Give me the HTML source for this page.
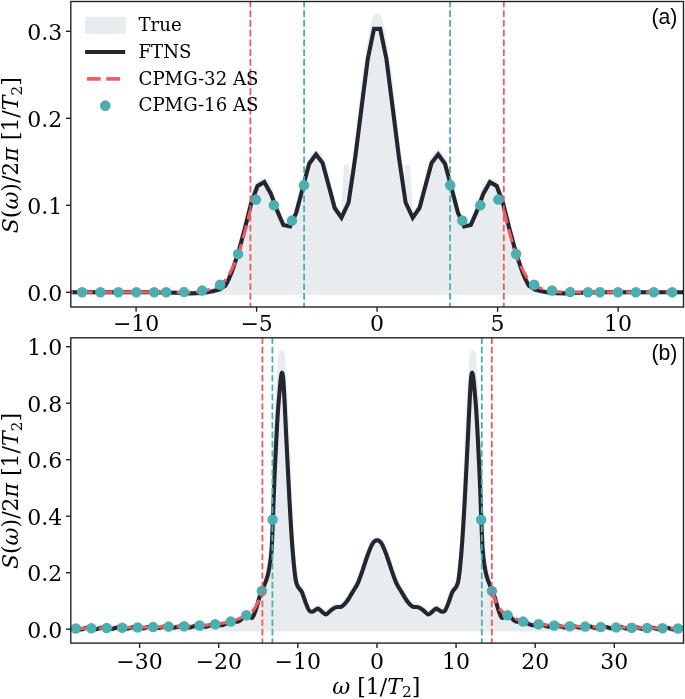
<!DOCTYPE html>
<html lang="en"><head><meta charset="utf-8"><title>Spectral density figure</title>
<style>
html,body{margin:0;padding:0;background:#fff;}
body{width:685px;height:699px;overflow:hidden;}
svg{display:block;}
text{font-family:"DejaVu Serif","Liberation Serif",serif;fill:#000;}
.tick{font-size:22px;}
.leg{font-size:18.15px;}
.lab{font-size:22px;}
.it{font-style:italic;}
.pan{font-family:"Liberation Sans",Arial,Helvetica,sans-serif;font-size:21.2px;fill:#000;}
</style></head><body>
<svg width="685" height="699" viewBox="0 0 685 699">
<rect width="685" height="699" fill="#fff"/>
<defs>
<clipPath id="ct"><rect x="70.8" y="1.5" width="612.7" height="305.5"/></clipPath>
<clipPath id="cb"><rect x="70.8" y="337.8" width="612.7" height="305.3"/></clipPath>
</defs>

<g clip-path="url(#ct)">
<path d="M71.00,292.30 C77.50,292.30 96.83,292.30 110.00,292.30 C123.17,292.30 139.17,292.27 150.00,292.30 C160.83,292.33 168.33,292.42 175.00,292.50 C181.67,292.58 185.33,292.85 190.00,292.80 C194.67,292.75 199.23,292.60 203.00,292.20 C206.77,291.80 208.85,291.85 212.60,290.40 C216.35,288.95 222.27,286.82 225.50,283.50 C228.73,280.18 229.85,275.83 232.00,270.50 C234.15,265.17 236.27,258.58 238.40,251.50 C240.53,244.42 242.67,236.25 244.80,228.00 C246.93,219.75 249.08,209.17 251.20,202.00 C253.32,194.83 255.87,188.42 257.50,185.00 C259.13,181.58 259.87,182.20 261.00,181.50 C262.13,180.80 263.13,180.38 264.30,180.80 C265.47,181.22 266.80,181.97 268.00,184.00 C269.20,186.03 270.00,188.67 271.50,193.00 C273.00,197.33 275.02,204.83 277.00,210.00 C278.98,215.17 281.73,221.25 283.40,224.00 C285.07,226.75 285.88,226.25 287.00,226.50 C288.12,226.75 288.55,227.92 290.10,225.50 C291.65,223.08 294.17,218.50 296.30,212.00 C298.43,205.50 300.75,194.70 302.90,186.50 C305.05,178.30 307.52,168.05 309.20,162.80 C310.88,157.55 311.87,156.63 313.00,155.00 C314.13,153.37 315.00,153.00 316.00,153.00 C317.00,153.00 317.87,153.42 319.00,155.00 C320.13,156.58 321.23,157.67 322.80,162.50 C324.37,167.33 326.42,176.58 328.40,184.00 C330.38,191.42 332.52,201.58 334.70,207.00 C336.88,212.42 339.18,217.50 341.50,216.50 C343.82,215.50 346.33,210.92 348.60,201.00 C350.87,191.08 353.20,170.67 355.10,157.00 C357.00,143.33 358.43,132.67 360.00,119.00 C361.57,105.33 363.23,85.03 364.50,75.00 C365.77,64.97 366.32,66.48 367.60,58.80 C368.88,51.12 371.10,35.28 372.20,28.90 C373.30,22.52 373.60,22.45 374.20,20.50 C374.80,18.55 375.32,17.90 375.80,17.20 C376.28,16.50 376.67,16.30 377.10,16.30 C377.53,16.30 377.92,16.50 378.40,17.20 C378.88,17.90 379.40,18.55 380.00,20.50 C380.60,22.45 380.90,22.52 382.00,28.90 C383.10,35.28 385.32,51.12 386.60,58.80 C387.88,66.48 388.43,64.97 389.70,75.00 C390.97,85.03 392.63,105.33 394.20,119.00 C395.77,132.67 397.20,143.33 399.10,157.00 C401.00,170.67 403.33,191.08 405.60,201.00 C407.87,210.92 410.38,215.50 412.70,216.50 C415.02,217.50 417.32,212.42 419.50,207.00 C421.68,201.58 423.82,191.42 425.80,184.00 C427.78,176.58 429.83,167.33 431.40,162.50 C432.97,157.67 434.07,156.58 435.20,155.00 C436.33,153.42 437.20,153.00 438.20,153.00 C439.20,153.00 440.07,153.37 441.20,155.00 C442.33,156.63 443.32,157.55 445.00,162.80 C446.68,168.05 449.15,178.30 451.30,186.50 C453.45,194.70 455.77,205.50 457.90,212.00 C460.03,218.50 462.55,223.08 464.10,225.50 C465.65,227.92 466.08,226.75 467.20,226.50 C468.32,226.25 469.13,226.75 470.80,224.00 C472.47,221.25 475.22,215.17 477.20,210.00 C479.18,204.83 481.20,197.33 482.70,193.00 C484.20,188.67 485.00,186.03 486.20,184.00 C487.40,181.97 488.73,181.22 489.90,180.80 C491.07,180.38 492.07,180.80 493.20,181.50 C494.33,182.20 495.07,181.58 496.70,185.00 C498.33,188.42 500.88,194.83 503.00,202.00 C505.12,209.17 507.27,219.75 509.40,228.00 C511.53,236.25 513.67,244.42 515.80,251.50 C517.93,258.58 520.05,265.17 522.20,270.50 C524.35,275.83 525.47,280.18 528.70,283.50 C531.93,286.82 537.85,288.95 541.60,290.40 C545.35,291.85 547.43,291.80 551.20,292.20 C554.97,292.60 559.53,292.75 564.20,292.80 C568.87,292.85 572.53,292.58 579.20,292.50 C585.87,292.42 593.37,292.33 604.20,292.30 C615.03,292.27 631.03,292.30 644.20,292.30 C657.37,292.30 676.70,292.30 683.20,292.30 L683.20,292.3 L71.00,292.3 Z" fill="#e8ecee" stroke="#e8ecee" stroke-width="5" stroke-linejoin="round"/>
<path d="M341.20,214 L343.50,172 Q343.70,164.1 346.60,164.1 Q349.50,164.1 349.60,172 L351.10,214 Z" fill="#e8ecee"/>
<path d="M413.00,214 L410.70,172 Q410.50,164.1 407.60,164.1 Q404.70,164.1 404.60,172 L403.10,214 Z" fill="#e8ecee"/>
<path d="M71.00,292.30 L150.00,292.30 L175.00,292.80 L190.00,293.40 L203.00,293.00 L212.60,291.20 L219.10,289.60 L225.50,285.60 L228.70,279.40 L232.00,271.60 L238.40,252.30 L244.80,228.70 L251.20,203.20 L257.50,186.00 L264.30,182.10 L270.90,193.90 L277.00,210.40 L283.40,225.00 L290.10,226.50 L296.30,212.60 L302.90,187.20 L309.20,163.70 L316.00,154.50 L322.60,163.00 L328.40,184.50 L334.70,208.00 L341.50,217.60 L348.60,202.50 L355.10,158.50 L361.50,108.00 L367.80,58.80 L374.00,28.90 L380.20,28.90 L386.40,58.80 L392.70,108.00 L399.10,158.50 L405.60,202.50 L412.70,217.60 L419.50,208.00 L425.80,184.50 L431.60,163.00 L438.20,154.50 L445.00,163.70 L451.30,187.20 L457.90,212.60 L464.10,226.50 L470.80,225.00 L477.20,210.40 L483.30,193.90 L489.90,182.10 L496.70,186.00 L503.00,203.20 L509.40,228.70 L515.80,252.30 L522.20,271.60 L525.50,279.40 L528.70,285.60 L535.10,289.60 L541.60,291.20 L551.20,293.00 L564.20,293.40 L579.20,292.80 L604.20,292.30 L683.20,292.30" fill="none" stroke="#23262f" stroke-width="4.1" stroke-linejoin="miter" stroke-miterlimit="6" stroke-linecap="butt"/>
<path d="M71.00,292.30 C84.17,292.30 130.17,292.32 150.00,292.30 C169.83,292.28 181.17,292.42 190.00,292.20 C198.83,291.98 199.23,291.60 203.00,291.00 C206.77,290.40 209.92,289.52 212.60,288.60 C215.28,287.68 216.95,286.93 219.10,285.50 C221.25,284.07 223.35,282.75 225.50,280.00 C227.65,277.25 229.85,273.33 232.00,269.00 C234.15,264.67 236.27,260.17 238.40,254.00 C240.53,247.83 242.80,239.33 244.80,232.00 C246.80,224.67 249.47,213.67 250.40,210.00" fill="none" stroke="#ee5a5e" stroke-width="3.1" stroke-dasharray="13.7 5.8" stroke-dashoffset="11.4" stroke-linejoin="round"/>
<path d="M672.00,292.30 C660.70,292.30 622.17,292.32 604.20,292.30 C586.23,292.28 573.03,292.42 564.20,292.20 C555.37,291.98 554.97,291.60 551.20,291.00 C547.43,290.40 544.28,289.52 541.60,288.60 C538.92,287.68 537.25,286.93 535.10,285.50 C532.95,284.07 530.85,282.75 528.70,280.00 C526.55,277.25 524.35,273.33 522.20,269.00 C520.05,264.67 517.93,260.17 515.80,254.00 C513.67,247.83 511.40,239.33 509.40,232.00 C507.40,224.67 504.73,213.67 503.80,210.00" fill="none" stroke="#ee5a5e" stroke-width="3.1" stroke-dasharray="13.7 5.8" stroke-dashoffset="7.0" stroke-linejoin="round"/>
<circle cx="82.10" cy="292.30" r="5.25" fill="#4baeaf"/>
<circle cx="100.40" cy="292.30" r="5.25" fill="#4baeaf"/>
<circle cx="118.40" cy="292.30" r="5.25" fill="#4baeaf"/>
<circle cx="136.30" cy="292.30" r="5.25" fill="#4baeaf"/>
<circle cx="154.20" cy="292.30" r="5.25" fill="#4baeaf"/>
<circle cx="166.20" cy="292.30" r="5.25" fill="#4baeaf"/>
<circle cx="184.00" cy="292.10" r="5.25" fill="#4baeaf"/>
<circle cx="202.20" cy="290.60" r="5.25" fill="#4baeaf"/>
<circle cx="220.10" cy="284.80" r="5.25" fill="#4baeaf"/>
<circle cx="238.10" cy="254.00" r="5.25" fill="#4baeaf"/>
<circle cx="255.90" cy="199.60" r="5.25" fill="#4baeaf"/>
<circle cx="273.90" cy="205.30" r="5.25" fill="#4baeaf"/>
<circle cx="291.90" cy="220.60" r="5.25" fill="#4baeaf"/>
<circle cx="304.00" cy="185.30" r="5.25" fill="#4baeaf"/>
<circle cx="672.10" cy="292.30" r="5.25" fill="#4baeaf"/>
<circle cx="653.80" cy="292.30" r="5.25" fill="#4baeaf"/>
<circle cx="635.80" cy="292.30" r="5.25" fill="#4baeaf"/>
<circle cx="617.90" cy="292.30" r="5.25" fill="#4baeaf"/>
<circle cx="600.00" cy="292.30" r="5.25" fill="#4baeaf"/>
<circle cx="588.00" cy="292.30" r="5.25" fill="#4baeaf"/>
<circle cx="570.20" cy="292.10" r="5.25" fill="#4baeaf"/>
<circle cx="552.00" cy="290.60" r="5.25" fill="#4baeaf"/>
<circle cx="534.10" cy="284.80" r="5.25" fill="#4baeaf"/>
<circle cx="516.10" cy="254.00" r="5.25" fill="#4baeaf"/>
<circle cx="498.30" cy="199.60" r="5.25" fill="#4baeaf"/>
<circle cx="480.30" cy="205.30" r="5.25" fill="#4baeaf"/>
<circle cx="462.30" cy="220.60" r="5.25" fill="#4baeaf"/>
<circle cx="450.20" cy="185.30" r="5.25" fill="#4baeaf"/>
<line x1="250.40" y1="1.80" x2="250.40" y2="307.00" stroke="#ee5a5e" stroke-width="1.8" stroke-dasharray="6.8 2.95" stroke-dashoffset="1.4"/>
<line x1="503.80" y1="1.80" x2="503.80" y2="307.00" stroke="#ee5a5e" stroke-width="1.8" stroke-dasharray="6.8 2.95" stroke-dashoffset="1.4"/>
<line x1="304.10" y1="1.80" x2="304.10" y2="307.00" stroke="#4baeaf" stroke-width="1.8" stroke-dasharray="6.8 2.95" stroke-dashoffset="1.4"/>
<line x1="450.10" y1="1.80" x2="450.10" y2="307.00" stroke="#4baeaf" stroke-width="1.8" stroke-dasharray="6.8 2.95" stroke-dashoffset="1.4"/>
</g>
<g clip-path="url(#cb)">
<path d="M71.00,628.60 C77.50,628.50 96.83,628.23 110.00,628.00 C123.17,627.77 137.50,627.50 150.00,627.20 C162.50,626.90 175.83,626.53 185.00,626.20 C194.17,625.87 198.83,625.65 205.00,625.20 C211.17,624.75 216.17,624.37 222.00,623.50 C227.83,622.63 234.50,622.25 240.00,620.00 C245.50,617.75 251.33,614.33 255.00,610.00 C258.67,605.67 259.83,600.33 262.00,594.00 C264.17,587.67 266.42,580.17 268.00,572.00 C269.58,563.83 270.57,557.00 271.50,545.00 C272.43,533.00 272.87,517.50 273.60,500.00 C274.33,482.50 275.20,456.67 275.90,440.00 C276.60,423.33 277.18,411.33 277.80,400.00 C278.42,388.67 279.15,378.92 279.60,372.00 C280.05,365.08 280.18,361.73 280.50,358.50 C280.82,355.27 281.17,352.60 281.50,352.60 C281.83,352.60 282.18,355.27 282.50,358.50 C282.82,361.73 282.95,365.08 283.40,372.00 C283.85,378.92 284.57,388.67 285.20,400.00 C285.83,411.33 286.48,423.33 287.20,440.00 C287.92,456.67 288.70,482.50 289.50,500.00 C290.30,517.50 291.02,532.33 292.00,545.00 C292.98,557.67 294.45,569.33 295.40,576.00 C296.35,582.67 296.62,582.50 297.70,585.00 C298.78,587.50 300.65,588.50 301.90,591.00 C303.15,593.50 304.02,597.00 305.20,600.00 C306.38,603.00 307.83,607.25 309.00,609.00 C310.17,610.75 310.77,610.75 312.20,610.50 C313.63,610.25 315.92,607.42 317.60,607.50 C319.28,607.58 320.87,610.08 322.30,611.00 C323.73,611.92 324.85,613.25 326.20,613.00 C327.55,612.75 328.83,610.67 330.40,609.50 C331.97,608.33 333.72,606.67 335.60,606.00 C337.48,605.33 339.83,606.42 341.70,605.50 C343.57,604.58 344.98,602.92 346.80,600.50 C348.62,598.08 350.73,594.17 352.60,591.00 C354.47,587.83 356.25,585.42 358.00,581.50 C359.75,577.58 361.47,572.17 363.10,567.50 C364.73,562.83 366.32,557.50 367.80,553.50 C369.28,549.50 370.85,545.75 372.00,543.50 C373.15,541.25 373.85,540.75 374.70,540.00 C375.55,539.25 376.30,539.00 377.10,539.00 C377.90,539.00 378.65,539.25 379.50,540.00 C380.35,540.75 381.05,541.25 382.20,543.50 C383.35,545.75 384.92,549.50 386.40,553.50 C387.88,557.50 389.47,562.83 391.10,567.50 C392.73,572.17 394.45,577.58 396.20,581.50 C397.95,585.42 399.73,587.83 401.60,591.00 C403.47,594.17 405.58,598.08 407.40,600.50 C409.22,602.92 410.63,604.58 412.50,605.50 C414.37,606.42 416.72,605.33 418.60,606.00 C420.48,606.67 422.23,608.33 423.80,609.50 C425.37,610.67 426.65,612.75 428.00,613.00 C429.35,613.25 430.47,611.92 431.90,611.00 C433.33,610.08 434.92,607.58 436.60,607.50 C438.28,607.42 440.57,610.25 442.00,610.50 C443.43,610.75 444.03,610.75 445.20,609.00 C446.37,607.25 447.82,603.00 449.00,600.00 C450.18,597.00 451.05,593.50 452.30,591.00 C453.55,588.50 455.42,587.50 456.50,585.00 C457.58,582.50 457.85,582.67 458.80,576.00 C459.75,569.33 461.22,557.67 462.20,545.00 C463.18,532.33 463.90,517.50 464.70,500.00 C465.50,482.50 466.28,456.67 467.00,440.00 C467.72,423.33 468.37,411.33 469.00,400.00 C469.63,388.67 470.35,378.92 470.80,372.00 C471.25,365.08 471.38,361.73 471.70,358.50 C472.02,355.27 472.37,352.60 472.70,352.60 C473.03,352.60 473.38,355.27 473.70,358.50 C474.02,361.73 474.15,365.08 474.60,372.00 C475.05,378.92 475.78,388.67 476.40,400.00 C477.02,411.33 477.60,423.33 478.30,440.00 C479.00,456.67 479.87,482.50 480.60,500.00 C481.33,517.50 481.77,533.00 482.70,545.00 C483.63,557.00 484.62,563.83 486.20,572.00 C487.78,580.17 490.03,587.67 492.20,594.00 C494.37,600.33 495.53,605.67 499.20,610.00 C502.87,614.33 508.70,617.75 514.20,620.00 C519.70,622.25 526.37,622.63 532.20,623.50 C538.03,624.37 543.03,624.75 549.20,625.20 C555.37,625.65 560.03,625.87 569.20,626.20 C578.37,626.53 591.70,626.90 604.20,627.20 C616.70,627.50 631.03,627.77 644.20,628.00 C657.37,628.23 676.70,628.50 683.20,628.60 L683.20,629.0 L71.00,629.0 Z" fill="#e8ecee" stroke="#e8ecee" stroke-width="5" stroke-linejoin="round"/>
<path d="M71.00,628.06 C71.33,628.03 72.33,627.86 73.00,627.89 C73.67,627.92 74.33,628.07 75.00,628.24 C75.67,628.41 76.33,628.72 77.00,628.91 C77.67,629.10 78.33,629.30 79.00,629.38 C79.67,629.46 80.33,629.45 81.00,629.37 C81.67,629.29 82.33,629.09 83.00,628.90 C83.67,628.71 84.33,628.42 85.00,628.23 C85.67,628.04 86.33,627.83 87.00,627.74 C87.67,627.66 88.33,627.65 89.00,627.72 C89.67,627.80 90.33,628.02 91.00,628.21 C91.67,628.40 92.33,628.69 93.00,628.86 C93.67,629.03 94.33,629.18 95.00,629.21 C95.67,629.24 96.33,629.18 97.00,629.06 C97.67,628.94 98.33,628.70 99.00,628.50 C99.67,628.29 100.33,628.01 101.00,627.83 C101.67,627.65 102.33,627.48 103.00,627.43 C103.67,627.38 104.33,627.41 105.00,627.52 C105.67,627.63 106.33,627.89 107.00,628.09 C107.67,628.28 108.33,628.56 109.00,628.70 C109.67,628.84 110.33,628.94 111.00,628.93 C111.67,628.92 112.33,628.81 113.00,628.67 C113.67,628.52 114.33,628.26 115.00,628.05 C115.67,627.85 116.33,627.58 117.00,627.42 C117.67,627.27 118.33,627.14 119.00,627.12 C119.67,627.11 120.33,627.20 121.00,627.34 C121.67,627.48 122.33,627.78 123.00,627.97 C123.67,628.17 124.33,628.40 125.00,628.51 C125.67,628.62 126.33,628.67 127.00,628.63 C127.67,628.59 128.33,628.44 129.00,628.27 C129.67,628.10 130.33,627.83 131.00,627.63 C131.67,627.43 132.33,627.18 133.00,627.05 C133.67,626.92 134.33,626.83 135.00,626.85 C135.67,626.88 136.33,627.02 137.00,627.18 C137.67,627.35 138.33,627.65 139.00,627.84 C139.67,628.03 140.33,628.22 141.00,628.30 C141.67,628.38 142.33,628.38 143.00,628.32 C143.67,628.25 144.33,628.07 145.00,627.89 C145.67,627.71 146.33,627.44 147.00,627.25 C147.67,627.06 148.33,626.83 149.00,626.73 C149.67,626.62 150.33,626.57 151.00,626.62 C151.67,626.67 152.33,626.87 153.00,627.05 C153.67,627.22 154.33,627.51 155.00,627.68 C155.67,627.84 156.33,627.99 157.00,628.03 C157.67,628.08 158.33,628.04 159.00,627.94 C159.67,627.84 160.33,627.64 161.00,627.45 C161.67,627.26 162.33,626.99 163.00,626.79 C163.67,626.60 164.33,626.38 165.00,626.29 C165.67,626.19 166.33,626.15 167.00,626.23 C167.67,626.30 168.33,626.54 169.00,626.73 C169.67,626.92 170.33,627.20 171.00,627.35 C171.67,627.51 172.33,627.64 173.00,627.67 C173.67,627.70 174.33,627.66 175.00,627.56 C175.67,627.46 176.33,627.27 177.00,627.08 C177.67,626.90 178.33,626.64 179.00,626.46 C179.67,626.28 180.33,626.07 181.00,625.99 C181.67,625.92 182.33,625.92 183.00,626.01 C183.67,626.11 184.33,626.40 185.00,626.59 C185.67,626.77 186.33,626.99 187.00,627.12 C187.67,627.24 188.33,627.33 189.00,627.34 C189.67,627.35 190.33,627.29 191.00,627.17 C191.67,627.05 192.33,626.85 193.00,626.64 C193.67,626.43 194.33,626.14 195.00,625.92 C195.67,625.71 196.33,625.45 197.00,625.35 C197.67,625.26 198.33,625.26 199.00,625.36 C199.67,625.45 200.33,625.74 201.00,625.92 C201.67,626.09 202.33,626.28 203.00,626.40 C203.67,626.52 204.33,626.61 205.00,626.62 C205.67,626.63 206.33,626.59 207.00,626.46 C207.67,626.34 208.33,626.13 209.00,625.89 C209.67,625.64 210.33,625.28 211.00,625.01 C211.67,624.74 212.33,624.39 213.00,624.27 C213.67,624.16 214.33,624.23 215.00,624.30 C215.67,624.38 216.33,624.59 217.00,624.72 C217.67,624.86 218.33,625.00 219.00,625.09 C219.67,625.18 220.33,625.27 221.00,625.26 C221.67,625.26 222.33,625.21 223.00,625.04 C223.67,624.86 224.33,624.57 225.00,624.21 C225.67,623.85 226.33,623.30 227.00,622.89 C227.67,622.48 228.33,621.97 229.00,621.77 C229.67,621.56 230.33,621.68 231.00,621.66 C231.67,621.65 232.33,621.65 233.00,621.67 C233.67,621.69 234.33,621.76 235.00,621.77 C235.67,621.79 236.33,621.87 237.00,621.78 C237.67,621.69 238.33,621.58 239.00,621.24 C239.67,620.90 240.33,620.36 241.00,619.74 C241.67,619.11 242.33,618.16 243.00,617.48 C243.67,616.79 244.33,616.02 245.00,615.63 C245.67,615.25 246.33,615.28 247.00,615.17 C247.67,615.06 248.18,614.49 249.00,614.96 C249.82,615.43 250.98,618.24 251.90,618.00 C252.82,617.76 253.70,615.33 254.50,613.50 C255.30,611.67 255.80,609.97 256.70,607.00 C257.60,604.03 258.70,599.20 259.90,595.70 C261.10,592.20 262.62,589.28 263.90,586.00 C265.18,582.72 266.55,579.92 267.60,576.00 C268.65,572.08 269.52,567.17 270.20,562.50 C270.88,557.83 271.25,555.13 271.70,548.00 C272.15,540.87 272.45,531.03 272.90,519.70 C273.35,508.37 273.83,493.28 274.40,480.00 C274.97,466.72 275.70,451.67 276.30,440.00 C276.90,428.33 277.43,418.33 278.00,410.00 C278.57,401.67 279.23,395.25 279.70,390.00 C280.17,384.75 280.49,381.22 280.80,378.50 C281.11,375.78 281.35,374.68 281.55,373.70 C281.75,372.72 281.83,372.57 282.00,372.60 C282.17,372.63 282.33,372.67 282.55,373.90 C282.77,375.13 282.99,375.98 283.30,380.00 C283.61,384.02 283.88,388.00 284.40,398.00 C284.92,408.00 285.73,426.33 286.40,440.00 C287.07,453.67 287.75,467.50 288.40,480.00 C289.05,492.50 289.60,503.33 290.30,515.00 C291.00,526.67 291.75,539.48 292.60,550.00 C293.45,560.52 294.55,572.05 295.40,578.10 C296.25,584.15 296.62,583.97 297.70,586.30 C298.78,588.63 300.65,589.57 301.90,592.10 C303.15,594.63 304.02,598.47 305.20,601.50 C306.38,604.53 307.83,608.60 309.00,610.30 C310.17,612.00 311.20,611.72 312.20,611.70 C313.20,611.68 314.10,610.72 315.00,610.20 C315.90,609.68 316.77,608.67 317.60,608.60 C318.43,608.53 319.22,609.23 320.00,609.80 C320.78,610.37 321.27,611.23 322.30,612.00 C323.33,612.77 324.85,614.60 326.20,614.40 C327.55,614.20 328.83,611.98 330.40,610.80 C331.97,609.62 333.72,608.00 335.60,607.30 C337.48,606.60 339.83,607.57 341.70,606.60 C343.57,605.63 344.98,603.92 346.80,601.50 C348.62,599.08 350.73,595.22 352.60,592.10 C354.47,588.98 356.25,586.68 358.00,582.80 C359.75,578.92 361.47,573.48 363.10,568.80 C364.73,564.12 366.32,558.73 367.80,554.70 C369.28,550.67 370.85,546.85 372.00,544.60 C373.15,542.35 373.85,541.92 374.70,541.20 C375.55,540.48 376.30,540.30 377.10,540.30 C377.90,540.30 378.65,540.48 379.50,541.20 C380.35,541.92 381.05,542.35 382.20,544.60 C383.35,546.85 384.92,550.67 386.40,554.70 C387.88,558.73 389.47,564.12 391.10,568.80 C392.73,573.48 394.45,578.92 396.20,582.80 C397.95,586.68 399.73,588.98 401.60,592.10 C403.47,595.22 405.58,599.08 407.40,601.50 C409.22,603.92 410.63,605.63 412.50,606.60 C414.37,607.57 416.72,606.60 418.60,607.30 C420.48,608.00 422.23,609.62 423.80,610.80 C425.37,611.98 426.65,614.20 428.00,614.40 C429.35,614.60 430.87,612.77 431.90,612.00 C432.93,611.23 433.42,610.37 434.20,609.80 C434.98,609.23 435.77,608.53 436.60,608.60 C437.43,608.67 438.30,609.68 439.20,610.20 C440.10,610.72 441.00,611.68 442.00,611.70 C443.00,611.72 444.03,612.00 445.20,610.30 C446.37,608.60 447.82,604.53 449.00,601.50 C450.18,598.47 451.05,594.63 452.30,592.10 C453.55,589.57 455.42,588.63 456.50,586.30 C457.58,583.97 457.95,584.15 458.80,578.10 C459.65,572.05 460.75,560.52 461.60,550.00 C462.45,539.48 463.20,526.67 463.90,515.00 C464.60,503.33 465.15,492.50 465.80,480.00 C466.45,467.50 467.13,453.67 467.80,440.00 C468.47,426.33 469.28,408.00 469.80,398.00 C470.32,388.00 470.59,384.02 470.90,380.00 C471.21,375.98 471.43,375.13 471.65,373.90 C471.87,372.67 472.03,372.63 472.20,372.60 C472.37,372.57 472.45,372.72 472.65,373.70 C472.85,374.68 473.09,375.78 473.40,378.50 C473.71,381.22 474.03,384.75 474.50,390.00 C474.97,395.25 475.63,401.67 476.20,410.00 C476.77,418.33 477.30,428.33 477.90,440.00 C478.50,451.67 479.23,466.72 479.80,480.00 C480.37,493.28 480.85,508.37 481.30,519.70 C481.75,531.03 482.05,540.87 482.50,548.00 C482.95,555.13 483.32,557.83 484.00,562.50 C484.68,567.17 485.55,572.08 486.60,576.00 C487.65,579.92 489.02,582.72 490.30,586.00 C491.58,589.28 493.10,592.20 494.30,595.70 C495.50,599.20 496.60,604.03 497.50,607.00 C498.40,609.97 498.90,611.67 499.70,613.50 C500.50,615.33 501.38,617.76 502.30,618.00 C503.22,618.24 504.38,615.43 505.20,614.96 C506.02,614.49 506.53,615.06 507.20,615.17 C507.87,615.28 508.53,615.25 509.20,615.63 C509.87,616.02 510.53,616.79 511.20,617.48 C511.87,618.16 512.53,619.11 513.20,619.74 C513.87,620.36 514.53,620.90 515.20,621.24 C515.87,621.58 516.53,621.69 517.20,621.78 C517.87,621.87 518.53,621.79 519.20,621.77 C519.87,621.76 520.53,621.69 521.20,621.67 C521.87,621.65 522.53,621.65 523.20,621.66 C523.87,621.68 524.53,621.56 525.20,621.77 C525.87,621.97 526.53,622.48 527.20,622.89 C527.87,623.30 528.53,623.85 529.20,624.21 C529.87,624.57 530.53,624.86 531.20,625.04 C531.87,625.21 532.53,625.26 533.20,625.26 C533.87,625.27 534.53,625.18 535.20,625.09 C535.87,625.00 536.53,624.86 537.20,624.72 C537.87,624.59 538.53,624.38 539.20,624.30 C539.87,624.23 540.53,624.16 541.20,624.27 C541.87,624.39 542.53,624.74 543.20,625.01 C543.87,625.28 544.53,625.64 545.20,625.89 C545.87,626.13 546.53,626.34 547.20,626.46 C547.87,626.59 548.53,626.63 549.20,626.62 C549.87,626.61 550.53,626.52 551.20,626.40 C551.87,626.28 552.53,626.09 553.20,625.92 C553.87,625.74 554.53,625.45 555.20,625.36 C555.87,625.26 556.53,625.26 557.20,625.35 C557.87,625.45 558.53,625.71 559.20,625.92 C559.87,626.14 560.53,626.43 561.20,626.64 C561.87,626.85 562.53,627.05 563.20,627.17 C563.87,627.29 564.53,627.35 565.20,627.34 C565.87,627.33 566.53,627.24 567.20,627.12 C567.87,626.99 568.53,626.77 569.20,626.59 C569.87,626.40 570.53,626.11 571.20,626.01 C571.87,625.92 572.53,625.92 573.20,625.99 C573.87,626.07 574.53,626.28 575.20,626.46 C575.87,626.64 576.53,626.90 577.20,627.08 C577.87,627.27 578.53,627.46 579.20,627.56 C579.87,627.66 580.53,627.70 581.20,627.67 C581.87,627.64 582.53,627.51 583.20,627.35 C583.87,627.20 584.53,626.92 585.20,626.73 C585.87,626.54 586.53,626.30 587.20,626.23 C587.87,626.15 588.53,626.19 589.20,626.29 C589.87,626.38 590.53,626.60 591.20,626.79 C591.87,626.99 592.53,627.26 593.20,627.45 C593.87,627.64 594.53,627.84 595.20,627.94 C595.87,628.04 596.53,628.08 597.20,628.03 C597.87,627.99 598.53,627.84 599.20,627.68 C599.87,627.51 600.53,627.22 601.20,627.05 C601.87,626.87 602.53,626.67 603.20,626.62 C603.87,626.57 604.53,626.62 605.20,626.73 C605.87,626.83 606.53,627.06 607.20,627.25 C607.87,627.44 608.53,627.71 609.20,627.89 C609.87,628.07 610.53,628.25 611.20,628.32 C611.87,628.38 612.53,628.38 613.20,628.30 C613.87,628.22 614.53,628.03 615.20,627.84 C615.87,627.65 616.53,627.35 617.20,627.18 C617.87,627.02 618.53,626.88 619.20,626.85 C619.87,626.83 620.53,626.92 621.20,627.05 C621.87,627.18 622.53,627.43 623.20,627.63 C623.87,627.83 624.53,628.10 625.20,628.27 C625.87,628.44 626.53,628.59 627.20,628.63 C627.87,628.67 628.53,628.62 629.20,628.51 C629.87,628.40 630.53,628.17 631.20,627.97 C631.87,627.78 632.53,627.48 633.20,627.34 C633.87,627.20 634.53,627.11 635.20,627.12 C635.87,627.14 636.53,627.27 637.20,627.42 C637.87,627.58 638.53,627.85 639.20,628.05 C639.87,628.26 640.53,628.52 641.20,628.67 C641.87,628.81 642.53,628.92 643.20,628.93 C643.87,628.94 644.53,628.84 645.20,628.70 C645.87,628.56 646.53,628.28 647.20,628.09 C647.87,627.89 648.53,627.63 649.20,627.52 C649.87,627.41 650.53,627.38 651.20,627.43 C651.87,627.48 652.53,627.65 653.20,627.83 C653.87,628.01 654.53,628.29 655.20,628.50 C655.87,628.70 656.53,628.94 657.20,629.06 C657.87,629.18 658.53,629.24 659.20,629.21 C659.87,629.18 660.53,629.03 661.20,628.86 C661.87,628.69 662.53,628.40 663.20,628.21 C663.87,628.02 664.53,627.80 665.20,627.72 C665.87,627.65 666.53,627.66 667.20,627.74 C667.87,627.83 668.53,628.04 669.20,628.23 C669.87,628.42 670.53,628.71 671.20,628.90 C671.87,629.09 672.53,629.29 673.20,629.37 C673.87,629.45 674.53,629.46 675.20,629.38 C675.87,629.30 676.53,629.10 677.20,628.91 C677.87,628.72 678.53,628.41 679.20,628.24 C679.87,628.07 680.53,627.92 681.20,627.89 C681.87,627.86 682.87,628.03 683.20,628.06" fill="none" stroke="#23262f" stroke-width="4.1" stroke-linejoin="round" stroke-miterlimit="6" stroke-linecap="butt"/>
<path d="M71.00,628.60 C71.80,628.58 72.42,628.55 75.80,628.50 C79.18,628.45 86.15,628.38 91.30,628.30 C96.45,628.22 101.55,628.10 106.70,628.00 C111.85,627.90 117.05,627.80 122.20,627.70 C127.35,627.60 132.45,627.50 137.60,627.40 C142.75,627.30 147.93,627.23 153.10,627.10 C158.27,626.97 163.43,626.73 168.60,626.60 C173.77,626.47 178.93,626.48 184.10,626.30 C189.27,626.12 194.42,625.83 199.60,625.50 C204.78,625.17 210.02,624.95 215.20,624.30 C220.38,623.65 225.52,623.12 230.70,621.60 C235.88,620.08 243.00,616.70 246.30,615.20 C249.60,613.70 249.22,613.55 250.50,612.60 C251.78,611.65 252.75,611.27 254.00,609.50 C255.25,607.73 256.92,604.33 258.00,602.00 C259.08,599.67 259.77,597.58 260.50,595.50 C261.23,593.42 262.08,590.50 262.40,589.50" fill="none" stroke="#ee5a5e" stroke-width="3.1" stroke-dasharray="13.7 5.8" stroke-dashoffset="11.4" stroke-linejoin="round"/>
<path d="M683.20,628.60 C682.40,628.58 681.78,628.55 678.40,628.50 C675.02,628.45 668.05,628.38 662.90,628.30 C657.75,628.22 652.65,628.10 647.50,628.00 C642.35,627.90 637.15,627.80 632.00,627.70 C626.85,627.60 621.75,627.50 616.60,627.40 C611.45,627.30 606.27,627.23 601.10,627.10 C595.93,626.97 590.77,626.73 585.60,626.60 C580.43,626.47 575.27,626.48 570.10,626.30 C564.93,626.12 559.78,625.83 554.60,625.50 C549.42,625.17 544.18,624.95 539.00,624.30 C533.82,623.65 528.68,623.12 523.50,621.60 C518.32,620.08 511.20,616.70 507.90,615.20 C504.60,613.70 504.98,613.55 503.70,612.60 C502.42,611.65 501.45,611.27 500.20,609.50 C498.95,607.73 497.28,604.33 496.20,602.00 C495.12,599.67 494.43,597.58 493.70,595.50 C492.97,593.42 492.12,590.50 491.80,589.50" fill="none" stroke="#ee5a5e" stroke-width="3.1" stroke-dasharray="13.7 5.8" stroke-dashoffset="1.1" stroke-linejoin="round"/>
<circle cx="75.80" cy="628.50" r="5.25" fill="#4baeaf"/>
<circle cx="91.30" cy="628.30" r="5.25" fill="#4baeaf"/>
<circle cx="106.70" cy="628.00" r="5.25" fill="#4baeaf"/>
<circle cx="122.20" cy="627.70" r="5.25" fill="#4baeaf"/>
<circle cx="137.60" cy="627.40" r="5.25" fill="#4baeaf"/>
<circle cx="153.10" cy="627.10" r="5.25" fill="#4baeaf"/>
<circle cx="168.60" cy="626.60" r="5.25" fill="#4baeaf"/>
<circle cx="184.10" cy="626.30" r="5.25" fill="#4baeaf"/>
<circle cx="199.60" cy="625.50" r="5.25" fill="#4baeaf"/>
<circle cx="215.20" cy="624.30" r="5.25" fill="#4baeaf"/>
<circle cx="230.70" cy="621.60" r="5.25" fill="#4baeaf"/>
<circle cx="246.30" cy="615.20" r="5.25" fill="#4baeaf"/>
<circle cx="261.90" cy="591.00" r="5.25" fill="#4baeaf"/>
<circle cx="272.60" cy="519.70" r="5.25" fill="#4baeaf"/>
<circle cx="678.00" cy="628.50" r="5.25" fill="#4baeaf"/>
<circle cx="662.50" cy="628.30" r="5.25" fill="#4baeaf"/>
<circle cx="647.10" cy="628.00" r="5.25" fill="#4baeaf"/>
<circle cx="631.60" cy="627.70" r="5.25" fill="#4baeaf"/>
<circle cx="616.20" cy="627.40" r="5.25" fill="#4baeaf"/>
<circle cx="600.70" cy="627.10" r="5.25" fill="#4baeaf"/>
<circle cx="585.20" cy="626.60" r="5.25" fill="#4baeaf"/>
<circle cx="569.70" cy="626.30" r="5.25" fill="#4baeaf"/>
<circle cx="554.20" cy="625.50" r="5.25" fill="#4baeaf"/>
<circle cx="538.60" cy="624.30" r="5.25" fill="#4baeaf"/>
<circle cx="523.10" cy="621.60" r="5.25" fill="#4baeaf"/>
<circle cx="507.50" cy="615.20" r="5.25" fill="#4baeaf"/>
<circle cx="491.90" cy="591.00" r="5.25" fill="#4baeaf"/>
<circle cx="481.20" cy="519.70" r="5.25" fill="#4baeaf"/>
<line x1="262.40" y1="338.10" x2="262.40" y2="643.10" stroke="#ee5a5e" stroke-width="1.8" stroke-dasharray="6.6 2.8" stroke-dashoffset="0.7"/>
<line x1="491.80" y1="338.10" x2="491.80" y2="643.10" stroke="#ee5a5e" stroke-width="1.8" stroke-dasharray="6.6 2.8" stroke-dashoffset="0.7"/>
<line x1="272.40" y1="338.10" x2="272.40" y2="643.10" stroke="#4baeaf" stroke-width="1.8" stroke-dasharray="6.6 2.8" stroke-dashoffset="0.7"/>
<line x1="481.80" y1="338.10" x2="481.80" y2="643.10" stroke="#4baeaf" stroke-width="1.8" stroke-dasharray="6.6 2.8" stroke-dashoffset="0.7"/>
</g>
<rect x="70.8" y="1.5" width="612.7" height="305.5" fill="none" stroke="#1c1c1c" stroke-width="1.35"/>
<rect x="70.8" y="337.8" width="612.7" height="305.3" fill="none" stroke="#1c1c1c" stroke-width="1.35"/>
<line x1="136.10" y1="307.0" x2="136.10" y2="311.8" stroke="#1c1c1c" stroke-width="1.35"/>
<text class="tick" x="136.10" y="331.2" text-anchor="middle">−10</text>
<line x1="256.60" y1="307.0" x2="256.60" y2="311.8" stroke="#1c1c1c" stroke-width="1.35"/>
<text class="tick" x="256.60" y="331.2" text-anchor="middle">−5</text>
<line x1="377.10" y1="307.0" x2="377.10" y2="311.8" stroke="#1c1c1c" stroke-width="1.35"/>
<text class="tick" x="377.10" y="331.2" text-anchor="middle">0</text>
<line x1="497.60" y1="307.0" x2="497.60" y2="311.8" stroke="#1c1c1c" stroke-width="1.35"/>
<text class="tick" x="497.60" y="331.2" text-anchor="middle">5</text>
<line x1="618.10" y1="307.0" x2="618.10" y2="311.8" stroke="#1c1c1c" stroke-width="1.35"/>
<text class="tick" x="618.10" y="331.2" text-anchor="middle">10</text>
<line x1="66.0" y1="292.30" x2="70.8" y2="292.30" stroke="#1c1c1c" stroke-width="1.35"/>
<text class="tick" x="62.3" y="300.60" text-anchor="end">0.0</text>
<line x1="66.0" y1="205.30" x2="70.8" y2="205.30" stroke="#1c1c1c" stroke-width="1.35"/>
<text class="tick" x="62.3" y="213.60" text-anchor="end">0.1</text>
<line x1="66.0" y1="118.30" x2="70.8" y2="118.30" stroke="#1c1c1c" stroke-width="1.35"/>
<text class="tick" x="62.3" y="126.60" text-anchor="end">0.2</text>
<line x1="66.0" y1="31.30" x2="70.8" y2="31.30" stroke="#1c1c1c" stroke-width="1.35"/>
<text class="tick" x="62.3" y="39.60" text-anchor="end">0.3</text>
<line x1="139.59" y1="643.1" x2="139.59" y2="647.9" stroke="#1c1c1c" stroke-width="1.35"/>
<text class="tick" x="139.59" y="668.6" text-anchor="middle">−30</text>
<line x1="218.71" y1="643.1" x2="218.71" y2="647.9" stroke="#1c1c1c" stroke-width="1.35"/>
<text class="tick" x="218.71" y="668.6" text-anchor="middle">−20</text>
<line x1="297.83" y1="643.1" x2="297.83" y2="647.9" stroke="#1c1c1c" stroke-width="1.35"/>
<text class="tick" x="297.83" y="668.6" text-anchor="middle">−10</text>
<line x1="376.95" y1="643.1" x2="376.95" y2="647.9" stroke="#1c1c1c" stroke-width="1.35"/>
<text class="tick" x="376.95" y="668.6" text-anchor="middle">0</text>
<line x1="456.07" y1="643.1" x2="456.07" y2="647.9" stroke="#1c1c1c" stroke-width="1.35"/>
<text class="tick" x="456.07" y="668.6" text-anchor="middle">10</text>
<line x1="535.19" y1="643.1" x2="535.19" y2="647.9" stroke="#1c1c1c" stroke-width="1.35"/>
<text class="tick" x="535.19" y="668.6" text-anchor="middle">20</text>
<line x1="614.31" y1="643.1" x2="614.31" y2="647.9" stroke="#1c1c1c" stroke-width="1.35"/>
<text class="tick" x="614.31" y="668.6" text-anchor="middle">30</text>
<line x1="66.0" y1="629.20" x2="70.8" y2="629.20" stroke="#1c1c1c" stroke-width="1.35"/>
<text class="tick" x="62.3" y="637.50" text-anchor="end">0.0</text>
<line x1="66.0" y1="572.70" x2="70.8" y2="572.70" stroke="#1c1c1c" stroke-width="1.35"/>
<text class="tick" x="62.3" y="581.00" text-anchor="end">0.2</text>
<line x1="66.0" y1="516.20" x2="70.8" y2="516.20" stroke="#1c1c1c" stroke-width="1.35"/>
<text class="tick" x="62.3" y="524.50" text-anchor="end">0.4</text>
<line x1="66.0" y1="459.70" x2="70.8" y2="459.70" stroke="#1c1c1c" stroke-width="1.35"/>
<text class="tick" x="62.3" y="468.00" text-anchor="end">0.6</text>
<line x1="66.0" y1="403.20" x2="70.8" y2="403.20" stroke="#1c1c1c" stroke-width="1.35"/>
<text class="tick" x="62.3" y="411.50" text-anchor="end">0.8</text>
<line x1="66.0" y1="346.70" x2="70.8" y2="346.70" stroke="#1c1c1c" stroke-width="1.35"/>
<text class="tick" x="62.3" y="355.00" text-anchor="end">1.0</text>
<text class="lab" transform="translate(18.2,155.2) rotate(-90)" text-anchor="middle"><tspan class="it">S</tspan>(<tspan class="it">ω</tspan>)/2<tspan class="it">π</tspan> [1/<tspan class="it">T</tspan><tspan font-size="15.4" dy="3.5">2</tspan><tspan dy="-3.5">]</tspan></text>
<text class="lab" transform="translate(18.2,491.0) rotate(-90)" text-anchor="middle"><tspan class="it">S</tspan>(<tspan class="it">ω</tspan>)/2<tspan class="it">π</tspan> [1/<tspan class="it">T</tspan><tspan font-size="15.4" dy="3.5">2</tspan><tspan dy="-3.5">]</tspan></text>
<text class="lab" x="376.3" y="693.7" text-anchor="middle"><tspan class="it">ω</tspan> [1/<tspan class="it">T</tspan><tspan font-size="15.4" dy="3.5">2</tspan><tspan dy="-3.5">]</tspan></text>
<text class="pan" x="677.3" y="24.3" text-anchor="end">(a)</text>
<text class="pan" x="677.3" y="360.4" text-anchor="end">(b)</text>
<rect x="84.9" y="16.9" width="40.8" height="16.9" fill="#e8ecee"/>
<line x1="85.1" y1="52.05" x2="125.2" y2="52.05" stroke="#23262f" stroke-width="4.1"/>
<line x1="86.9" y1="78.9" x2="100.6" y2="78.9" stroke="#ee5a5e" stroke-width="3.6"/>
<line x1="106.3" y1="78.9" x2="120.1" y2="78.9" stroke="#ee5a5e" stroke-width="3.6"/>
<circle cx="105.3" cy="105.65" r="5.3" fill="#4baeaf"/>
<text class="leg" x="138.5" y="31.20">True</text>
<text class="leg" x="138.5" y="57.95">FTNS</text>
<text class="leg" x="138.5" y="84.70">CPMG-32 AS</text>
<text class="leg" x="138.5" y="111.45">CPMG-16 AS</text>
</svg></body></html>
